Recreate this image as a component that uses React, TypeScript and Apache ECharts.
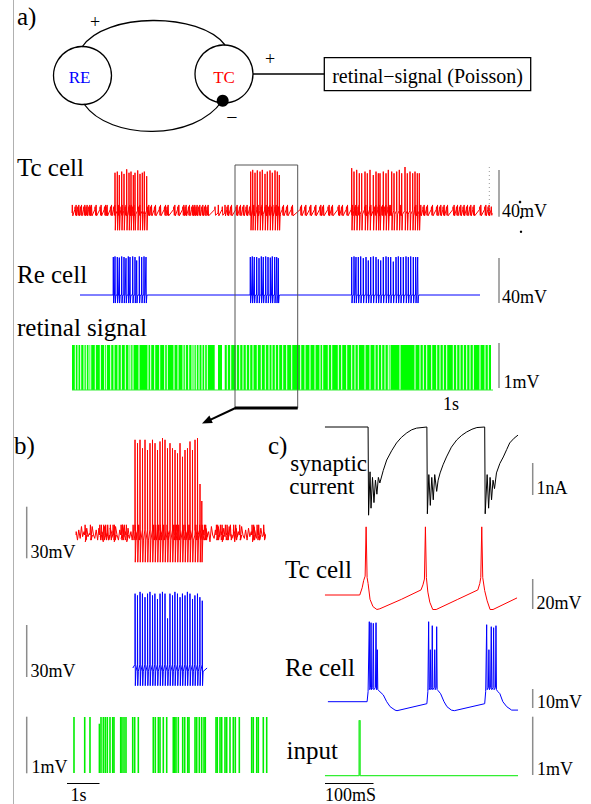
import React, { useEffect, useRef } from "react";
import * as echarts from "echarts";

const SERIF = "'Liberation Serif', 'Times New Roman', 'DejaVu Serif', serif";

// ---------------- Panel a (time in ms, trace spans 0–4200 ms) ----------------
// runs of (merged) retinal Poisson spikes: [start, end]
const retinalRunsA: number[][] = [
  [0, 28], [38, 55], [65, 82], [92, 115], [125, 138], [148, 165], [175, 182], [192, 228], [238, 278],
  [288, 322], [332, 338], [348, 382], [392, 415], [425, 455], [465, 488], [498, 528], [538, 565],
  [575, 582], [592, 605], [615, 665], [675, 755], [765, 782], [792, 822], [832, 872], [882, 922],
  [932, 948], [958, 1015], [1025, 1055], [1065, 1105], [1115, 1128], [1138, 1162], [1172, 1195],
  [1205, 1215], [1225, 1238], [1248, 1265], [1275, 1295], [1305, 1322], [1332, 1348], [1358, 1427],
  [1460, 1500], [1527, 1548], [1558, 1582], [1592, 1638], [1648, 1672], [1682, 1705], [1715, 1738],
  [1748, 1772], [1782, 1805], [1815, 1848], [1858, 1888], [1898, 1928], [1938, 1965], [1975, 1995],
  [2005, 2028], [2038, 2062], [2072, 2102], [2112, 2142], [2152, 2192], [2202, 2282], [2292, 2325],
  [2335, 2375], [2385, 2425], [2435, 2475], [2485, 2502], [2512, 2558], [2568, 2592], [2602, 2658],
  [2668, 2692], [2702, 2742], [2752, 2792], [2802, 2825], [2835, 2858], [2868, 2925], [2935, 2975],
  [2985, 3025], [3035, 3058], [3068, 3092], [3102, 3125], [3135, 3158], [3168, 3175], [3185, 3275],
  [3285, 3425], [3435, 3475], [3485, 3508], [3518, 3542], [3552, 3592], [3602, 3642], [3652, 3675],
  [3685, 3708], [3718, 3742], [3752, 3808], [3818, 3842], [3852, 3875], [3885, 3908], [3918, 3942],
  [3952, 3975], [3985, 4008], [4018, 4075], [4085, 4125], [4135, 4158], [4168, 4190],
];
// Tc cell spikes [t ms, peak mV]
const tcSpikesA: number[][] = [
  [430, -25], [453, -24], [473, -27], [497, -24], [520, -26], [547, -22], [570, -25], [590, -24],
  [613, -27], [630, -25], [657, -23], [680, -26], [703, -25], [723, -24], [747, -28],
  [1787, -24], [1807, -22.5], [1830, -25], [1853, -23], [1880, -24], [1903, -22.5], [1930, -26],
  [1953, -24], [1980, -23], [2003, -25], [2030, -23], [2053, -24], [2073, -27],
  [2797, -21], [2820, -24], [2847, -22.5], [2873, -25.5], [2897, -25.5], [2930, -24], [2953, -25.5],
  [2980, -22.5], [3013, -27], [3040, -24], [3063, -25.5], [3080, -25.5], [3113, -24], [3140, -25.5],
  [3163, -22.5], [3197, -24], [3220, -25.5], [3247, -24], [3273, -22.5], [3297, -25.5], [3330, -20],
  [3353, -25.5], [3380, -24], [3407, -25.5], [3430, -24], [3453, -25.5], [3473, -25.5],
];
// Re cell spikes [t ms, peak mV]
const reSpikesA: number[][] = [
  [413, -27], [430, -26.5], [453, -27], [473, -27.5], [497, -26.5], [520, -27], [540, -28], [563, -26.5],
  [580, -27], [607, -26.5], [630, -27], [647, -30], [673, -26.5], [697, -27], [720, -26.5], [740, -27],
  [1783, -27], [1803, -26.5], [1823, -27], [1847, -27], [1870, -28], [1893, -26.5], [1913, -27],
  [1937, -26.5], [1960, -27], [1983, -27.5], [2003, -26.5], [2027, -27], [2047, -27], [2063, -28],
  [2797, -27], [2820, -26.5], [2840, -27], [2863, -27], [2887, -26.5], [2913, -28], [2940, -27],
  [2963, -30], [2987, -27], [3013, -26.5], [3040, -27], [3063, -29], [3087, -30], [3113, -27],
  [3140, -26.5], [3163, -27], [3187, -27], [3213, -31], [3240, -27], [3263, -26.5], [3287, -27],
  [3313, -27], [3340, -26.5], [3363, -27], [3387, -26.5], [3413, -27], [3437, -27], [3457, -27],
];

// ---------------- Panel b (time in ms, 0–6100 ms) ----------------
const retinalSpikesB: number[][] = [
  [31, 1], [366, 1], [531, 1], [825, 0.88], [875, 1], [947, 1], [1009, 1], [1072, 1], [1156, 1],
  [1241, 1], [1281, 1], [1491, 1], [1531, 1], [1594, 1], [1656, 1], [1866, 1], [1928, 1], [2041, 1],
  [2509, 1], [2572, 1], [2666, 1], [2719, 1], [2822, 1], [2928, 1], [3134, 1], [3178, 1], [3219, 1],
  [3291, 1], [3428, 1], [3491, 1], [3584, 1], [3625, 1], [3813, 1], [3866, 1], [3947, 1], [4022, 1],
  [4094, 1], [4134, 1], [4469, 1], [4509, 1], [4594, 1], [4647, 1], [4750, 1], [4803, 1], [4906, 1],
  [5009, 1], [5072, 1], [5197, 1], [5584, 1], [5634, 1], [5741, 1], [5791, 1], [5947, 1], [6053, 1],
];
// Tc membrane fluctuations outside the burst [t ms, mV]
const tcNoiseB: number[][] = [
  [100, -58], [140, -63], [180, -57], [225, -62], [265, -55], [300, -61], [345, -58], [385, -64],
  [430, -56], [470, -61], [510, -59], [555, -63], [600, -55], [640, -60], [680, -62], [725, -57],
  [770, -63], [810, -56], [850, -61], [900, -58], [945, -64], [985, -55], [1030, -61], [1070, -59],
  [1115, -63], [1160, -56], [1200, -62], [1245, -58], [1290, -64], [1330, -55], [1375, -60], [1420, -63],
  [1460, -57], [1505, -62], [1550, -54], [1590, -61], [1635, -58], [1680, -64], [1720, -56], [1765, -62],
  [1810, -58], [1850, -63],
  [4070, -57], [4110, -63], [4150, -56], [4195, -61], [4240, -58], [4280, -64], [4325, -55], [4365, -60],
  [4410, -62], [4450, -57], [4495, -63], [4540, -55], [4580, -61], [4625, -58], [4665, -64], [4710, -56],
  [4750, -61], [4795, -59], [4840, -63], [4880, -55], [4925, -60], [4965, -62], [5010, -57], [5055, -64],
  [5095, -56], [5140, -61], [5180, -58], [5225, -63], [5270, -55], [5310, -60], [5355, -62], [5395, -57],
  [5440, -63], [5485, -56], [5525, -61], [5570, -58], [5610, -64], [5655, -55], [5700, -60], [5740, -62],
  [5785, -57], [5830, -63], [5870, -56], [5915, -61], [5955, -58], [5995, -62],
];
const tcSpikesB: number[][] = [
  [1938, -4], [2016, -6], [2094, -4], [2172, -9], [2250, -4], [2328, -10], [2406, -6], [2484, -4],
  [2563, -6], [2641, -10], [2719, -5], [2797, -3], [2875, -4], [2953, -9], [3031, -6], [3109, -9],
  [3188, -10], [3266, -12], [3344, -6], [3422, -14], [3500, -10], [3578, -9], [3656, -5], [3734, -10],
  [3813, -4], [3891, -3], [3969, -30], [4025, -40],
];
const reSpikesB: number[][] = [
  [1940, -18], [2015, -19], [2095, -17], [2170, -18], [2250, -20], [2330, -18], [2405, -17], [2485, -19],
  [2560, -18], [2640, -21], [2720, -18], [2795, -17], [2875, -18], [2955, -32], [3030, -18], [3110, -19],
  [3185, -17], [3265, -18], [3345, -20], [3420, -18], [3500, -19], [3575, -17], [3655, -18], [3735, -21],
  [3810, -19], [3890, -18], [3965, -20], [4040, -22],
];

// ---------------- Panel c (time in ms, 0–400 ms) ----------------
const synCurrentC: number[][] = [
  [4, 0], [92, 0], [93, -3.15], [96, -1.6], [98, -2.9], [101, -1.8], [104, -2.7], [107, -1.9], [110, -2.4],
  [113, -1.8], [116, -2.0], [123, -1.55], [130, -1.18], [140, -0.85], [150, -0.57], [160, -0.37], [171, -0.21],
  [181, -0.1], [191, -0.04], [212, 0], [213, -3.1], [216, -1.7], [219, -2.8], [222, -1.8], [225, -2.6],
  [228, -1.7], [232, -2.3], [235, -1.9], [239, -1.64], [245, -1.35], [252, -1.07], [262, -0.72], [273, -0.46],
  [283, -0.3], [293, -0.18], [304, -0.08], [314, -0.02], [330, 0], [331, -3.1], [335, -1.7], [338, -2.9],
  [341, -1.8], [344, -2.6], [347, -1.9], [350, -2.2], [354, -1.64], [361, -1.3], [368, -1.07], [375, -0.8],
  [381, -0.57], [390, -0.4], [398, -0.29],
];
const tcVoltageC: number[][] = [
  [4, -60], [75, -60], [80, -55], [83, -50], [86, -47], [88, -13], [90, -48], [92, -52], [96, -63],
  [102, -68], [110, -70], [116, -69.5], [160, -63], [200, -56.5], [204, -53], [207, -49], [209, -13],
  [211, -48], [214, -58], [218, -65], [224, -70], [231, -70], [275, -63], [316, -56.5], [320, -52],
  [322, -48], [324, -13], [326, -48], [330, -57], [335, -64], [341, -70], [347, -70], [396, -62],
];
const reVoltageC: number[][] = [
  [10, -65], [90, -65], [92, -60], [94.5, -25], [95.5, -59], [97, -58], [98, -25.5], [99, -59], [101.5, -58],
  [102.7, -25.8], [103.7, -59], [107, -58], [108.2, -25.5], [109.2, -59], [110, -58], [110.8, -39],
  [111.8, -59], [114, -59.5], [123, -61.6], [130, -65], [137, -67.5], [147, -69.2], [151, -69.5],
  [212, -66], [214, -60], [215.6, -25], [216.6, -59], [218, -58], [219, -39], [220, -59], [222, -58],
  [223, -27], [224, -59], [227, -58], [228, -39], [229, -59], [231, -58], [232, -27.5], [233, -59],
  [235, -59.5], [240, -61], [247, -65], [253, -67.5], [262, -69.2], [268, -69.5],
  [330, -66], [332, -60], [334, -26.5], [335, -59], [337.5, -58], [338.6, -39], [339.6, -59], [342, -58],
  [343.4, -27.5], [344.4, -59], [347, -58], [348.2, -28], [349.2, -59], [352, -58], [353, -27],
  [354, -59], [357, -60], [361, -61], [367, -65], [375, -67.5], [385, -69.2], [398, -69.2],
];
const inputSpikesC: number[][] = [[75, 0.92]];

type Pt = [number, number];
type Ev = { t: number; shape: Pt[] };

function buildTrace(start: number, end: number, rest: number, events: Ev[]): Pt[] {
  const pts: Pt[] = [[start, rest]];
  events
    .filter((e) => e.t >= start && e.t <= end)
    .sort((a, b) => a.t - b.t)
    .forEach((e) => e.shape.forEach(([dt, v]) => pts.push([e.t + dt, v])));
  pts.push([end, rest]);
  return pts;
}

function App() {
  const ref = useRef<HTMLDivElement>(null);

  useEffect(() => {
    document.body.style.margin = "0";
    if (!ref.current) return;
    const chart = echarts.init(ref.current, undefined, { renderer: "svg" });

    // ---- traces built from the arrays ----
    const tcA = buildTrace(0, 4200, -60, [
      ...retinalRunsA.map((r) => ({ t: r[0], shape: [[0, -60], [3, -53], [8, -62.5]] as Pt[] })),
      ...retinalRunsA.map((r) => ({ t: r[1], shape: [[0, -57], [3, -54.5], [8, -62]] as Pt[] })),
      ...tcSpikesA.map(([t, p]) => ({ t, shape: [[-2, -58], [0, p], [3, -75], [9, -61]] as Pt[] })),
    ]);
    const reA = buildTrace(80, 4080, -60,
      reSpikesA.map(([t, p]) => ({ t, shape: [[-2, -60], [0, p], [3, -67], [8, -61], [12, -60]] as Pt[] })));
    const tcB = buildTrace(94, 6000, -60, [
      ...tcNoiseB.map(([t, v]) => ({ t, shape: [[0, v]] as Pt[] })),
      ...retinalSpikesB.map(([t]) => ({ t, shape: [[0, -60], [12, -54], [40, -63], [70, -60]] as Pt[] })),
      ...tcSpikesB.map(([t, p]) => ({ t, shape: [[-3, -57], [0, p], [8, -76], [30, -63]] as Pt[] })),
    ]);
    const reB = buildTrace(1870, 4190, -60,
      reSpikesB.map(([t, p]) => ({ t, shape: [[-3, -58], [0, p], [8, -70], [25, -62]] as Pt[] })));
    const inputC = buildTrace(4, 398, 0,
      inputSpikesC.map(([t, h]) => ({ t, shape: [[-1.5, 0], [-1.5, h], [1, h], [1, 0]] as Pt[] })));

    const grids = [
      { left: 72, top: 167, width: 420, height: 74.75 },
      { left: 72, top: 249, width: 420, height: 74.75 },
      { left: 72, top: 345, width: 420, height: 45 },
      { left: 73, top: 433, width: 195.2, height: 144.5 },
      { left: 73, top: 579.5, width: 195.2, height: 132.75 },
      { left: 73, top: 717, width: 195.2, height: 56 },
      { left: 323, top: 413, width: 196, height: 112 },
      { left: 323, top: 515.25, width: 196, height: 108.75 },
      { left: 323, top: 611.7, width: 196, height: 110 },
      { left: 323, top: 715.7, width: 196, height: 60 },
    ];
    const xr = [[0, 4200], [0, 4200], [0, 4200], [0, 6100], [0, 6100], [0, 6100], [0, 400], [0, 400], [0, 400], [0, 400]];
    const yr = [[-85, -20], [-85, -20], [0, 1], [-85, 0], [-85, -10], [0, 1], [-3.5, 0.5], [-80, -5], [-75, -20], [0, 1]];

    const line = (i: number, data: Pt[] | number[][], color: string, width = 1) => ({
      type: "line", xAxisIndex: i, yAxisIndex: i, data, symbol: "none", showSymbol: false,
      lineStyle: { color, width }, silent: true, clip: false, z: 3,
    });

    const series: any[] = [
      line(0, tcA, "#ff0000"),
      line(1, reA, "#0000ff"),
      line(2, [[0, 0], [4230, 0]], "#33ee33"),
      {
        type: "custom", xAxisIndex: 2, yAxisIndex: 2, silent: true, clip: false,
        data: retinalRunsA.map((r) => [r[0], r[1], 1]),
        encode: { x: [0, 1], y: 2 },
        renderItem: (_p: any, api: any) => {
          const a = api.coord([api.value(0), api.value(2)]);
          const b = api.coord([api.value(1), 0]);
          return { type: "rect", shape: { x: a[0], y: a[1], width: Math.max(b[0] - a[0], 0.8), height: b[1] - a[1] }, style: { fill: "#00ff00" } };
        },
      },
      line(3, tcB, "#ff0000"),
      line(4, reB, "#0000ff"),
      {
        type: "custom", xAxisIndex: 5, yAxisIndex: 5, silent: true, clip: false,
        data: retinalSpikesB,
        encode: { x: 0, y: 1 },
        renderItem: (_p: any, api: any) => {
          const a = api.coord([api.value(0), 0]);
          const b = api.coord([api.value(0), api.value(1)]);
          return { type: "line", shape: { x1: a[0], y1: a[1], x2: b[0], y2: b[1] }, style: { stroke: "#00ee00", lineWidth: 1.6 } };
        },
      },
      line(6, synCurrentC, "#000000"),
      line(7, tcVoltageC, "#ff0000"),
      line(8, reVoltageC, "#0000ff"),
      line(9, inputC, "#33ee33", 1.2),
    ];

    const mid = (baseline: number, size: number) => baseline - 0.31 * size;
    const txt = (text: string, x: number, baseline: number, size: number, fill = "#000", align = "left") => ({
      type: "text", x, y: mid(baseline, size), silent: true, z: 10,
      style: { text, fill, font: `${size}px ${SERIF}`, textAlign: align, textVerticalAlign: "middle", align, verticalAlign: "middle" },
    });
    const seg = (x1: number, y1: number, x2: number, y2: number, stroke = "#000", lineWidth = 1, extra: any = {}) => ({
      type: "line", silent: true, z: 9, shape: { x1, y1, x2, y2 }, style: { stroke, lineWidth, ...extra },
    });
    const GRAY = "#8c8c8c";

    const graphics: any[] = [
      seg(13.5, 0, 13.5, 804, "#b0b0b0", 1),
      // panel a diagram
      txt("a)", 17, 24, 25),
      { type: "circle", silent: true, shape: { cx: 82.5, cy: 75.5, r: 29 }, style: { stroke: "#000", fill: "none", lineWidth: 1.3 } },
      { type: "circle", silent: true, shape: { cx: 224, cy: 74, r: 29 }, style: { stroke: "#000", fill: "none", lineWidth: 1.3 } },
      { type: "bezierCurve", silent: true, shape: { x1: 82, y1: 47, cpx1: 105, cpy1: 12, cpx2: 200, cpy2: 12, x2: 225, y2: 45 }, style: { stroke: "#000", fill: "none", lineWidth: 1.3 } },
      { type: "bezierCurve", silent: true, shape: { x1: 84, y1: 104, cpx1: 110, cpy1: 141, cpx2: 195, cpy2: 141, x2: 222, y2: 101 }, style: { stroke: "#000", fill: "none", lineWidth: 1.3 } },
      { type: "circle", silent: true, shape: { cx: 222.7, cy: 100.7, r: 6 }, style: { fill: "#000" } },
      txt("RE", 79.5, 83, 17, "#0000ff", "center"),
      txt("TC", 224, 82.7, 17, "#ff0000", "center"),
      txt("+", 95, 28, 18, "#000", "center"),
      txt("+", 270, 65, 18, "#000", "center"),
      txt("−", 232, 123, 20, "#000", "center"),
      seg(253, 74, 324.3, 74, "#000", 1.3),
      { type: "rect", silent: true, shape: { x: 324.3, y: 57.7, width: 206.4, height: 33 }, style: { stroke: "#000", fill: "none", lineWidth: 1.3 } },
      txt("retinal−signal (Poisson)", 427.5, 81.7, 20, "#000", "center"),
      // panel a labels
      txt("Tc cell", 17, 175, 25),
      txt("Re cell", 17, 282, 25),
      txt("retinal signal", 17, 335, 25),
      seg(499, 170, 499, 216.7, GRAY, 1.5),
      seg(499, 258, 499, 303, GRAY, 1.5),
      seg(499, 343, 499, 388, GRAY, 1.5),
      seg(489.3, 167, 489.3, 212, "#999", 1, { lineDash: [1, 3] }),
      { type: "circle", silent: true, shape: { cx: 520, cy: 202, r: 1.3 }, style: { fill: "#000" } },
      { type: "circle", silent: true, shape: { cx: 521, cy: 217.5, r: 1.2 }, style: { fill: "#000" } },
      { type: "circle", silent: true, shape: { cx: 521, cy: 231.7, r: 1.2 }, style: { fill: "#000" } },
      txt("40mV", 502, 216.7, 18),
      txt("40mV", 502, 303, 18),
      txt("1mV", 503.5, 388, 18),
      txt("1s", 443, 410, 18),
      // zoom box + arrow
      { type: "rect", silent: true, z: 8, shape: { x: 235, y: 165, width: 62.7, height: 243 }, style: { stroke: "#555", fill: "none", lineWidth: 1 } },
      seg(235, 408, 297.7, 408, "#000", 3),
      seg(235.5, 408, 208, 420.8, "#000", 2),
      { type: "polygon", silent: true, z: 9, shape: { points: [[202, 423.5], [212.8, 422.9], [209.4, 415.6]] }, style: { fill: "#000" } },
      // panel b
      txt("b)", 14, 453, 25),
      seg(26.7, 506.7, 26.7, 558.3, GRAY, 1.5),
      seg(26.7, 625, 26.7, 677, GRAY, 1.5),
      seg(26.7, 716.7, 26.7, 773.3, GRAY, 1.5),
      txt("30mV", 30.5, 558, 18),
      txt("30mV", 30.5, 677, 18),
      txt("1mV", 31.5, 773, 18),
      seg(67, 783.5, 99.5, 783.5, "#000", 1),
      txt("1s", 70.5, 801, 18),
      // panel c
      txt("c)", 268, 453, 25),
      txt("synaptic", 367, 471, 23, "#000", "right"),
      txt("current", 354.5, 494, 23, "#000", "right"),
      txt("Tc cell", 352, 577, 25, "#000", "right"),
      txt("Re cell", 355, 675, 25, "#000", "right"),
      txt("input", 338, 758, 25, "#000", "right"),
      seg(532.7, 463, 532.7, 495, GRAY, 1.5),
      seg(532.7, 579, 532.7, 609, GRAY, 1.5),
      seg(532.7, 689, 532.7, 708, GRAY, 1.5),
      seg(532.7, 716.7, 532.7, 775, GRAY, 1.5),
      txt("1nA", 536.5, 494, 18),
      txt("20mV", 536.5, 609, 18),
      txt("10mV", 537, 708, 18),
      txt("1mV", 537, 775, 18),
      seg(325, 783.5, 373.5, 783.5, "#000", 1),
      txt("100mS", 325, 801, 18),
    ];

    chart.setOption({
      animation: false,
      backgroundColor: "#ffffff",
      grid: grids.map((g) => ({ ...g, containLabel: false, show: false })),
      xAxis: xr.map((r, i) => ({ type: "value", gridIndex: i, min: r[0], max: r[1], show: false })),
      yAxis: yr.map((r, i) => ({ type: "value", gridIndex: i, min: r[0], max: r[1], show: false })),
      series,
      graphic: { elements: graphics },
    });

    return () => chart.dispose();
  }, []);

  return <div ref={ref} style={{ width: 591, height: 804 }} />;
}

export default App;
